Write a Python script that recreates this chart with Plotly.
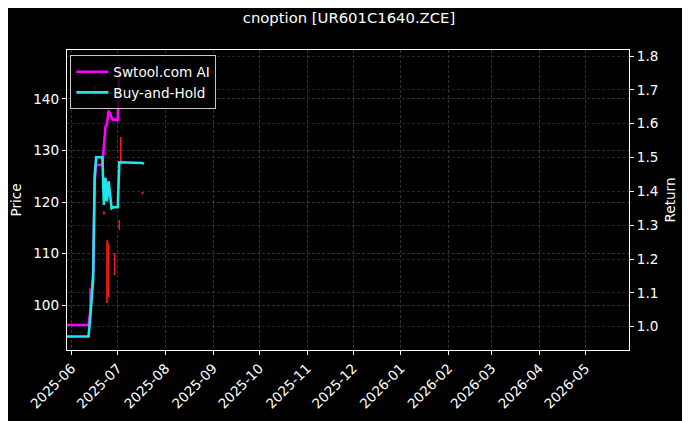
import plotly.graph_objects as go

# ---------------- data ----------------
ai_dates = ["2025-05-29", "2025-06-12", "2025-06-13", "2025-06-15", "2025-06-16", "2025-06-17",
            "2025-06-21", "2025-06-22", "2025-06-23", "2025-06-24", "2025-06-25", "2025-06-26",
            "2025-06-27", "2025-06-28", "2025-07-01", "2025-07-02"]
ai_return = [1.005, 1.005, 1.04, 1.16, 1.43, 1.478,
             1.478, 1.55, 1.59, 1.60, 1.635, 1.632,
             1.617, 1.612, 1.612, 1.778]

bh_dates = ["2025-05-29", "2025-06-12", "2025-06-13", "2025-06-15", "2025-06-16", "2025-06-17",
            "2025-06-21", "2025-06-22", "2025-06-23", "2025-06-24", "2025-06-25", "2025-06-26",
            "2025-06-27", "2025-06-28", "2025-07-01", "2025-07-02", "2025-07-16", "2025-07-17",
            "2025-07-18"]
bh_return = [0.971, 0.971, 1.02, 1.14, 1.45, 1.501,
             1.501, 1.36, 1.44, 1.37, 1.43, 1.39,
             1.35, 1.353, 1.353, 1.486, 1.486, 1.484,
             1.481]

price_dates = ["2025-06-13", "2025-06-16", "2025-06-22", "2025-06-24", "2025-06-25",
               "2025-06-29", "2025-07-02", "2025-07-03", "2025-07-17"]
price_low = [100.4, 140.4, 117.6, 100.4, 101.5, 105.8, 114.6, 127.6, 121.5]
price_high = [103.3, 142.7, 118.2, 112.6, 112.0, 110.1, 116.5, 132.6, 122.0]
price_up = [True, False, False, False, False, False, False, False, False]

month_ticks = ["2025-06-01", "2025-07-01", "2025-08-01", "2025-09-01", "2025-10-01",
               "2025-11-01", "2025-12-01", "2026-01-01", "2026-02-01", "2026-03-01",
               "2026-04-01", "2026-05-01"]
month_labels = ["2025-06", "2025-07", "2025-08", "2025-09", "2025-10", "2025-11",
                "2025-12", "2026-01", "2026-02", "2026-03", "2026-04", "2026-05"]

price_range = [91.3, 149.5]
return_range = [0.931, 1.818]
return_ticks = [1.0, 1.1, 1.2, 1.3, 1.4, 1.5, 1.6, 1.7, 1.8]
return_labels = ["1.0", "1.1", "1.2", "1.3", "1.4", "1.5", "1.6", "1.7", "1.8"]
price_ticks = [100, 110, 120, 130, 140]

# ---------------- figure ----------------
fig = go.Figure()

FONT = "DejaVu Sans"
FS = 13.6
W, H = 682, 413   # page body has an 8px margin

for up_flag, color in [(True, "#1a9e1a"), (False, "#ff1a1a")]:
    xs, ys = [], []
    for d, lo, hi, up in zip(price_dates, price_low, price_high, price_up):
        if up == up_flag:
            xs += [d, d, None]
            ys += [lo, hi, None]
    fig.add_trace(go.Scatter(x=xs, y=ys, mode="lines", line=dict(color=color, width=1.6),
                             showlegend=False, hoverinfo="skip", yaxis="y"))

fig.add_trace(go.Scatter(x=ai_dates, y=ai_return, mode="lines", name="Swtool.com AI",
                         line=dict(color="#ff00ff", width=2.6), yaxis="y2"))
fig.add_trace(go.Scatter(x=bh_dates, y=bh_return, mode="lines", name="Buy-and-Hold",
                         line=dict(color="#1ee8ee", width=2.6), yaxis="y2"))

grid = "rgba(140,140,140,0.35)"
dash = "3px,2px"

fig.update_layout(
    width=W, height=H,
    paper_bgcolor="black", plot_bgcolor="black",
    font=dict(family=FONT, color="white", size=FS),
    margin=dict(l=59, r=61, t=42, b=71, autoexpand=False),
    title=dict(text="cnoption [UR601C1640.ZCE]", x=0.5, xanchor="center",
               y=1 - 10 / H, yanchor="middle", font=dict(size=14.8, color="white")),
    xaxis=dict(type="date", range=["2025-05-29", "2026-05-29 07:00"],
               tickmode="array", tickvals=month_ticks, ticktext=month_labels,
               tickangle=-45, showline=True, linecolor="white", linewidth=1.2, mirror=True,
               ticks="outside", tickcolor="white", ticklen=4, automargin=False,
               showgrid=True, gridcolor=grid, griddash=dash, gridwidth=0.7,
               zeroline=False, tickfont=dict(size=FS)),
    yaxis=dict(range=price_range, tickvals=price_ticks,
               title=dict(text="Price", standoff=8, font=dict(size=FS)),
               showline=True, linecolor="white", linewidth=1.2, mirror=True,
               ticks="outside", tickcolor="white", ticklen=4, automargin=False,
               showgrid=True, gridcolor=grid, griddash=dash, gridwidth=0.7,
               zeroline=False, tickfont=dict(size=FS)),
    yaxis2=dict(range=return_range, tickvals=return_ticks, ticktext=return_labels,
                overlaying="y", side="right",
                title=dict(text="Return", standoff=8, font=dict(size=FS)),
                showline=True, linecolor="white", linewidth=1.2,
                ticks="outside", tickcolor="white", ticklen=4, automargin=False,
                showgrid=True, gridcolor="rgba(140,140,140,0.25)", griddash=dash, gridwidth=0.7,
                zeroline=False, tickfont=dict(size=FS)),
    legend=dict(x=0.006, y=0.982, xanchor="left", yanchor="top",
                bgcolor="rgba(0,0,0,0.8)", bordercolor="rgba(220,220,220,0.9)", borderwidth=1,
                font=dict(size=FS, color="white"), tracegroupgap=0, itemwidth=32),
    showlegend=True,
)

fig.write_html("out.html")
